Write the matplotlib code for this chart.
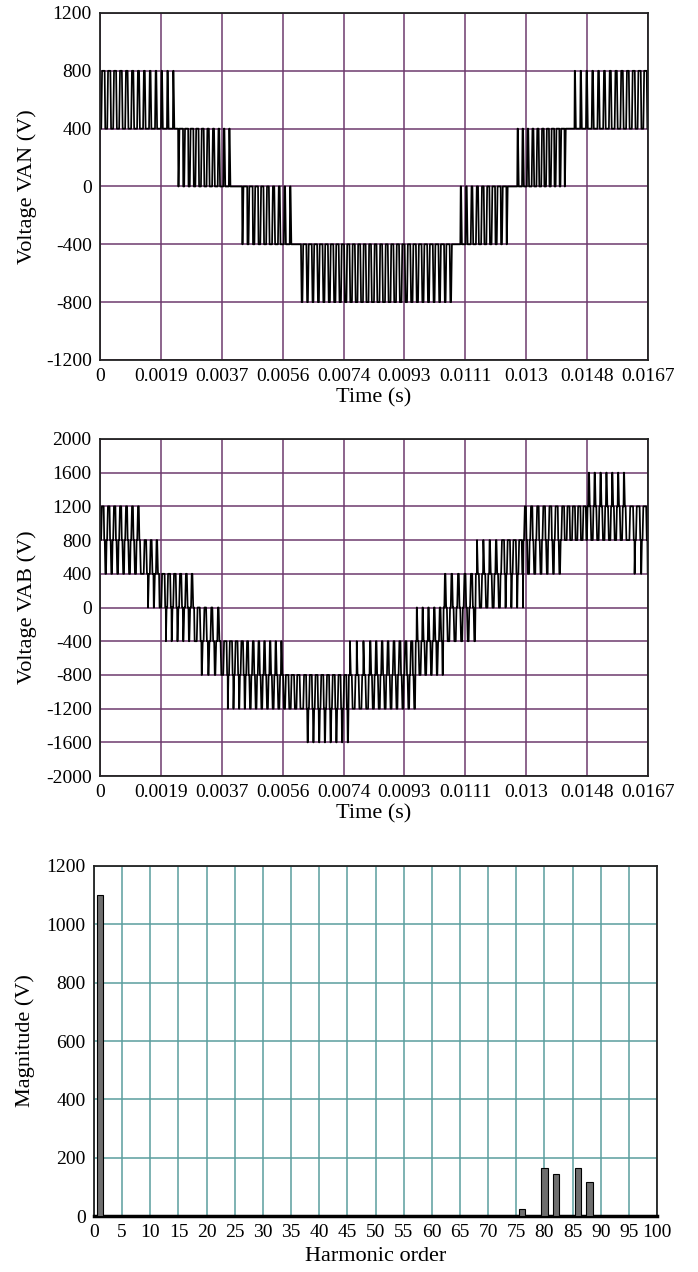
import matplotlib
matplotlib.use("Agg")
import matplotlib.pyplot as plt

plt.rcParams['font.family'] = ['Liberation Serif', 'DejaVu Serif']
plt.rcParams['axes.unicode_minus'] = False

# time axis ticks (one fundamental period)
t_end = 0.0167
t_labels = ['0', '0.0019', '0.0037', '0.0056', '0.0074', '0.0093',
            '0.0111', '0.013', '0.0148', '0.0167']

# switching segments:
# (t0, t1, pulses, mid level, high level, low level,
#  high duty start, high duty end, low duty start, low duty end)
van_segments = [
    (0.0, 0.00232, 13, 400, 800, 400, 0.6, 0.08, 0, 0),
    (0.00232, 0.00238, 1, 400, 400, 400, 0, 0, 0, 0),
    (0.00238, 0.00402, 10, 0, 400, 0, 0.85, 0.1, 0, 0),
    (0.00402, 0.00433, 1, 0, 0, 0, 0, 0, 0, 0),
    (0.00433, 0.00588, 9, -400, 0, -400, 0.85, 0.1, 0, 0),
    (0.00588, 0.00600, 1, -400, -400, -400, 0, 0, 0, 0),
    (0.00600, 0.00835, 14, -400, -400, -800, 0, 0, 0.25, 0.55),
    (0.00835, 0.01070, 14, -400, -400, -800, 0, 0, 0.55, 0.25),
    (0.01070, 0.01091, 1, -400, -400, -400, 0, 0, 0, 0),
    (0.01091, 0.01240, 9, -400, 0, -400, 0.1, 0.85, 0, 0),
    (0.01240, 0.01265, 1, 0, 0, 0, 0, 0, 0, 0),
    (0.01265, 0.01417, 10, 0, 400, 0, 0.1, 0.85, 0, 0),
    (0.01417, 0.01438, 1, 400, 400, 400, 0, 0, 0, 0),
    (0.01438, 0.0167, 13, 400, 800, 400, 0.08, 0.6, 0, 0),
]

vab_segments = [
    (0.0, 0.00128, 7, 800, 1200, 400, 0.45, 0.25, 0.2, 0.35),
    (0.00128, 0.00183, 3, 400, 800, 0, 0.45, 0.15, 0.0, 0.2),
    (0.00183, 0.00290, 6, 0, 400, -400, 0.6, 0.2, 0.0, 0.2),
    (0.00290, 0.00372, 4, -400, 0, -800, 0.5, 0.15, 0.05, 0.25),
    (0.00372, 0.00442, 4, -800, -400, -1200, 0.6, 0.4, 0.0, 0.15),
    (0.00442, 0.00564, 7, -800, -400, -1200, 0.35, 0.1, 0.25, 0.35),
    (0.00564, 0.00616, 3, -800, -800, -1200, 0, 0, 0.4, 0.45),
    (0.00616, 0.00756, 8, -1200, -800, -1600, 0.5, 0.5, 0.12, 0.12),
    (0.00756, 0.00817, 3, -800, -400, -1200, 0.0, 0.05, 0.45, 0.4),
    (0.00817, 0.00960, 8, -800, -400, -1200, 0.15, 0.4, 0.35, 0.25),
    (0.00960, 0.01045, 5, -400, 0, -800, 0.05, 0.3, 0.4, 0.1),
    (0.01045, 0.01143, 5, 0, 400, -400, 0.15, 0.35, 0.4, 0.2),
    (0.01143, 0.01219, 4, 400, 800, 0, 0.0, 0.2, 0.4, 0.3),
    (0.01219, 0.01289, 4, 400, 800, 0, 0.5, 0.6, 0.1, 0.0),
    (0.01289, 0.01402, 6, 800, 1200, 400, 0.3, 0.5, 0.35, 0.2),
    (0.01402, 0.01484, 5, 800, 1200, 800, 0.5, 0.6, 0, 0),
    (0.01484, 0.01609, 7, 1200, 1600, 800, 0.15, 0.1, 0.4, 0.4),
    (0.01609, 0.0167, 3, 800, 1200, 400, 0.55, 0.55, 0, 0.1),
]

# harmonic spectrum
harm_order = [1, 76, 80, 82, 86, 88]
harm_mag = [1100, 25, 166, 145, 166, 117]

purple = '#6e3a6e'
teal = '#5a9e9e'


def build(segments, rise=2.5e-5):
    ts, vs = [], []
    for t0, t1, n, mid, hi, lo, h0, h1, l0, l1 in segments:
        p = (t1 - t0) / n
        for k in range(n):
            f = (k + 0.5) / n
            hd = h0 + (h1 - h0) * f
            ld = l0 + (l1 - l0) * f
            rest = (1 - hd - ld) / 2
            a = t0 + k * p
            for dur, lev in ((rest, mid), (hd, hi), (rest, mid), (ld, lo)):
                if dur <= 0:
                    continue
                d = dur * p
                ts += [a + min(rise, d / 2), a + d]
                vs += [lev, lev]
                a += d
    return ts, vs


def style(ax, gridcolor):
    ax.grid(True, color=gridcolor, lw=1.1)
    ax.set_axisbelow(True)
    ax.tick_params(length=0, labelsize=14, pad=6)
    for s in ax.spines.values():
        s.set_linewidth(1.3)
        s.set_color('#222222')


fig = plt.figure(figsize=(6.98, 12.72), dpi=100)

xt = [i * t_end / 9 for i in range(10)]

ax1 = fig.add_axes([0.1433, 0.717, 0.785, 0.2728])
t, v = build(van_segments)
ax1.plot(t, v, color='black', lw=1.25)
ax1.set_xlim(0, t_end)
ax1.set_ylim(-1200, 1200)
ax1.set_yticks(range(-1200, 1201, 400))
ax1.set_xticks(xt)
ax1.set_xticklabels(t_labels)
ax1.set_xlabel('Time (s)', fontsize=16, labelpad=2)
ax1.set_ylabel('Voltage VAN (V)', fontsize=16, labelpad=6)
style(ax1, purple)

ax2 = fig.add_axes([0.1433, 0.3899, 0.785, 0.265])
t, v = build(vab_segments)
ax2.plot(t, v, color='black', lw=1.25)
ax2.set_xlim(0, t_end)
ax2.set_ylim(-2000, 2000)
ax2.set_yticks(range(-2000, 2001, 400))
ax2.set_xticks(xt)
ax2.set_xticklabels(t_labels)
ax2.set_xlabel('Time (s)', fontsize=16, labelpad=2)
ax2.set_ylabel('Voltage VAB (V)', fontsize=16, labelpad=6)
style(ax2, purple)

ax3 = fig.add_axes([0.1347, 0.044, 0.8066, 0.2752])
ax3.bar(harm_order, harm_mag, width=1.1, color='#6e6e6e',
        edgecolor='black', lw=0.8, zorder=3)
ax3.set_xlim(0, 100)
ax3.set_ylim(0, 1200)
ax3.set_xticks(range(0, 101, 5))
ax3.set_yticks(range(0, 1201, 200))
ax3.set_xlabel('Harmonic order', fontsize=16, labelpad=4)
ax3.set_ylabel('Magnitude (V)', fontsize=16, labelpad=8)
style(ax3, teal)
ax3.spines['bottom'].set_linewidth(2.5)
ax3.spines['bottom'].set_color('black')

fig.savefig('out.png', dpi=100)
